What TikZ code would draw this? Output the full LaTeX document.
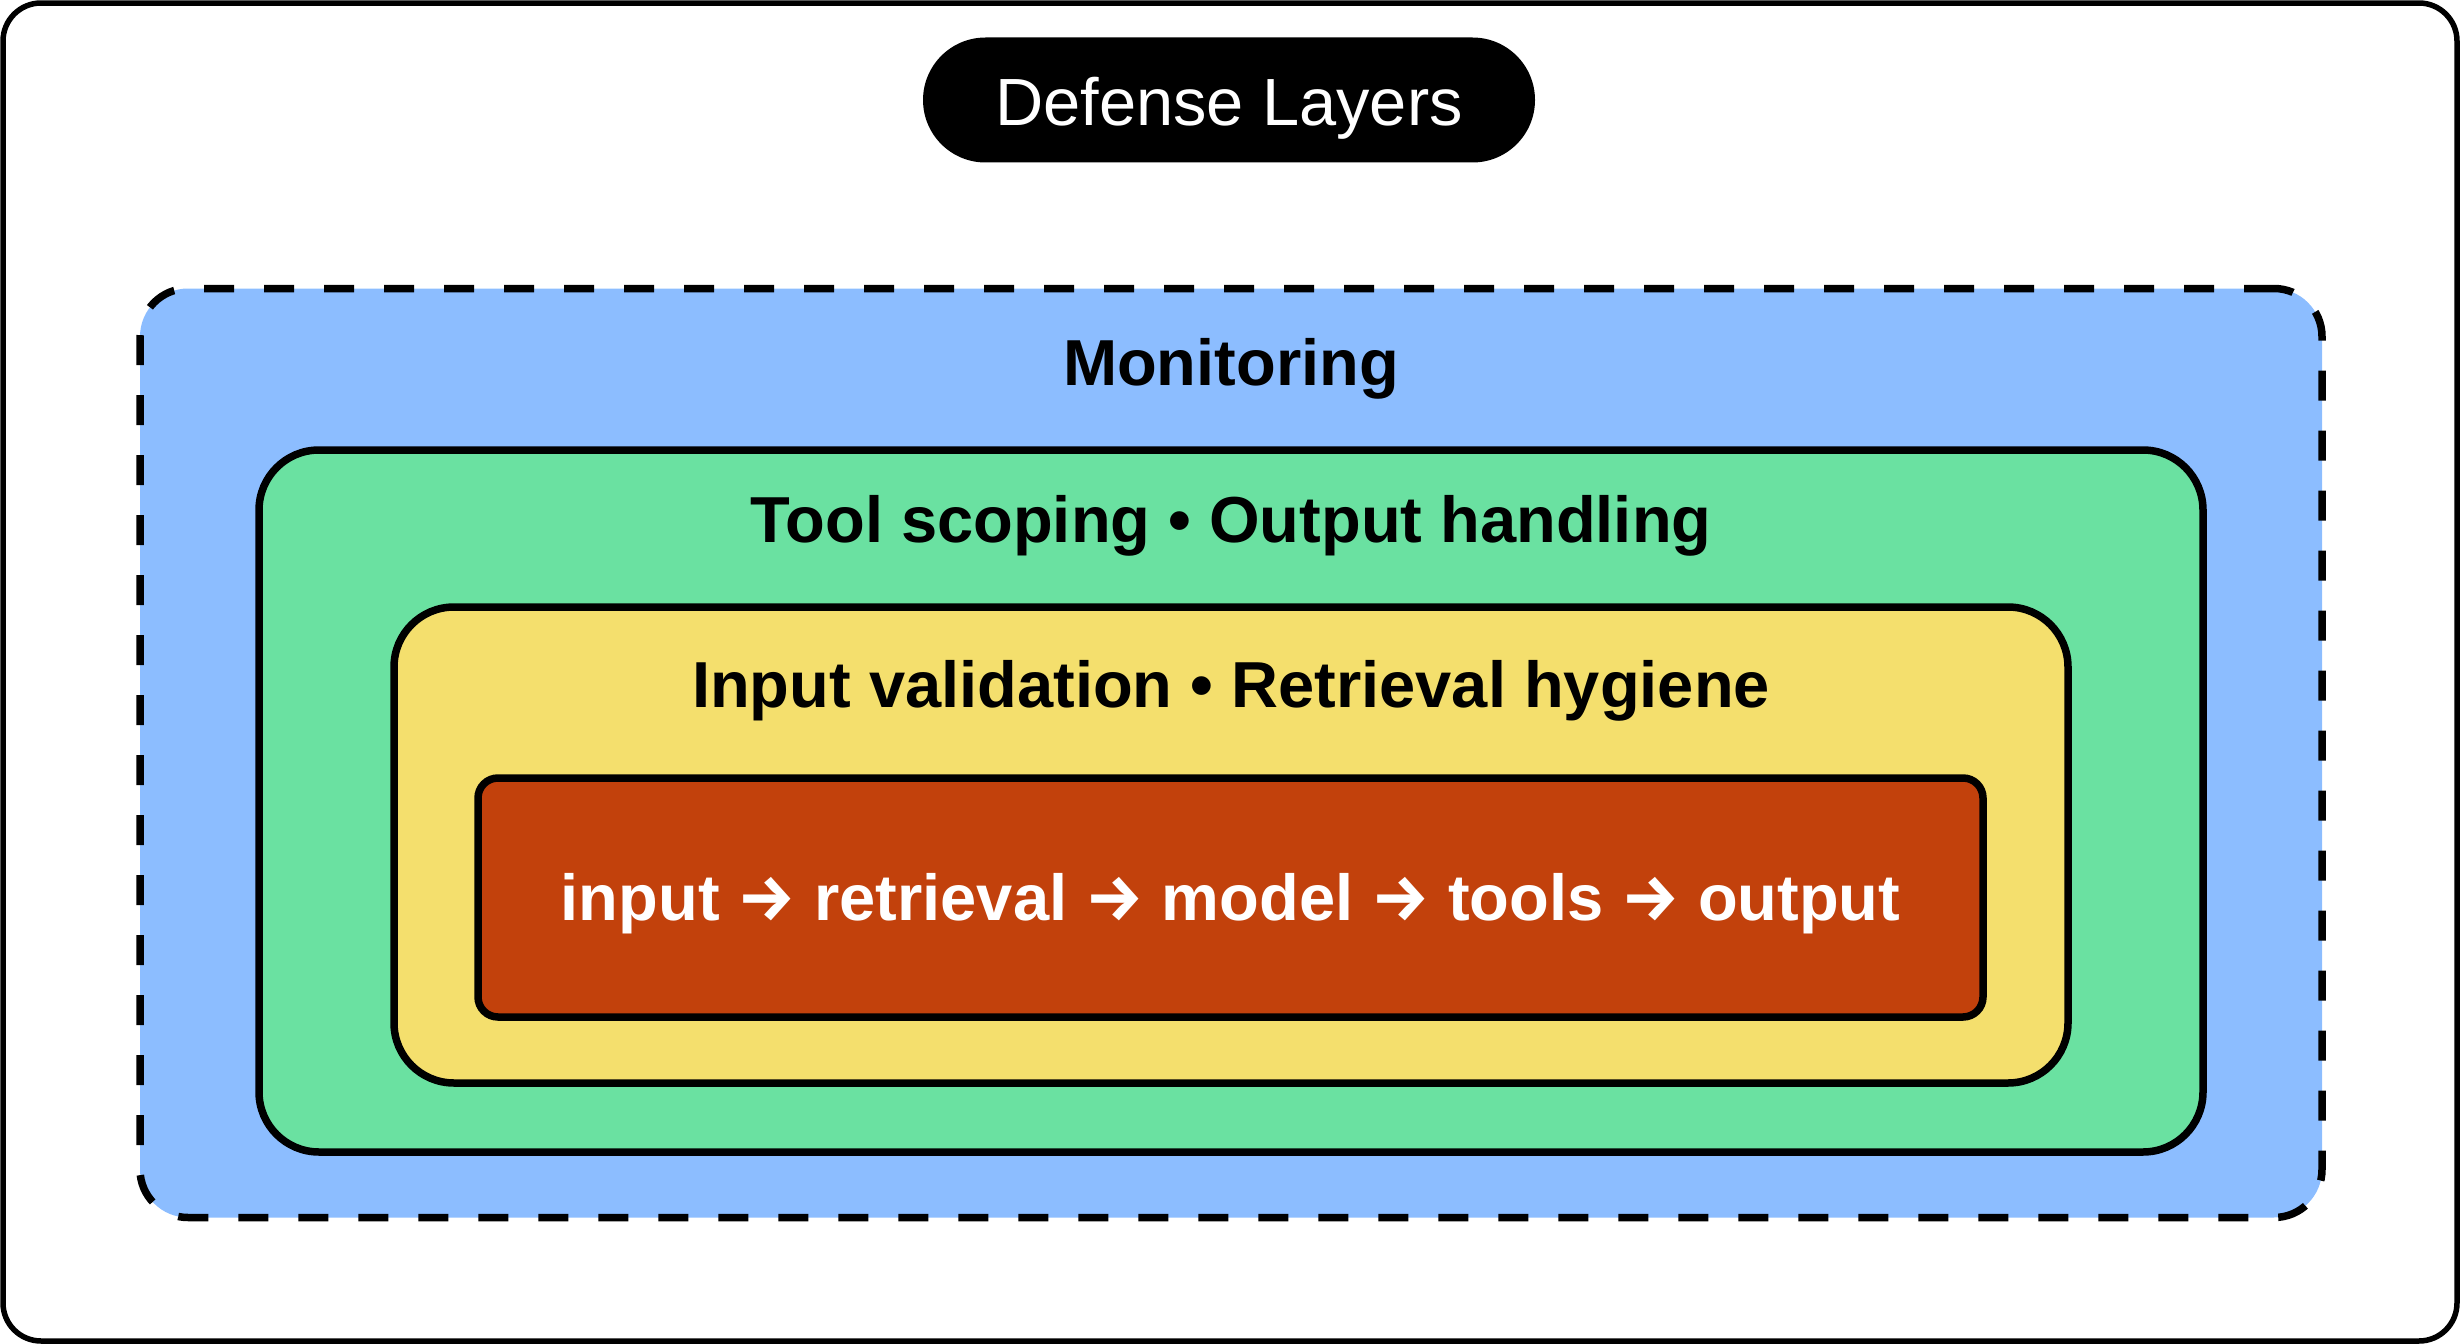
\documentclass[tikz,border=0pt]{standalone}
\usepackage{fontspec}
\setmainfont{Liberation Sans}
\newfontfamily\arrowfont{Fira Sans}
\usetikzlibrary{positioning}
\definecolor{monblue}{HTML}{8CBDFF}
\definecolor{toolgreen}{HTML}{6AE1A1}
\definecolor{inputyellow}{HTML}{F4DF6D}
\definecolor{corered}{HTML}{C2410C}
\newcommand{\flowto}{{\arrowfont\bfseries →}}
\begin{document}
\begin{tikzpicture}[
        x=0.1mm, y=-0.1mm,
        frame/.style={draw=black, line width=0.55mm, rounded corners=3.8mm, inner sep=0pt},
        pill/.style={fill=black, text=white, rounded corners=6.25mm, inner sep=0pt,
            text height=5.1mm, text depth=0mm, font=\fontsize{19pt}{22pt}\selectfont},
        layer/.style={draw=black, line width=0.75mm, rounded corners=6mm, inner sep=0pt},
        layertext/.style={anchor=base, inner sep=0pt, font=\bfseries\fontsize{18.5pt}{22pt}\selectfont},
        flowbox/.style={layer, fill=corered, rounded corners=2mm, text=white,
            text height=4.6mm, text depth=0mm, font=\bfseries\fontsize{18.5pt}{22pt}\selectfont}
    ]

    \useasboundingbox (0,0) rectangle (2460,1344);
    \node[frame, minimum width=245.4mm, minimum height=133.8mm] (outer) at (1230,672) {};
    \node[pill, minimum width=61.2mm, minimum height=12.5mm] (title) at (1229,100) {Defense Layers};

    \node[layer, fill=monblue, dash pattern=on 3mm off 3mm, rounded corners=4.8mm,
        minimum width=218.2mm, minimum height=92.9mm] (mon) at (1231,753) {};
    \node[layertext] (montext) at ([yshift=-10.1mm]mon.north) {Monitoring};

    \node[layer, fill=toolgreen, minimum width=194.4mm, minimum height=70.2mm] (tool) at (1231,801) {};
    \node[layertext] (tooltext) at ([yshift=-9.6mm]tool.north) {Tool scoping • Output handling};

    \node[layer, fill=inputyellow, minimum width=167.4mm, minimum height=47.6mm] (input) at (1231,845) {};
    \node[layertext] (inputtext) at ([yshift=-10.4mm]input.north) {Input validation • Retrieval hygiene};

    \node[flowbox, minimum width=150.5mm, minimum height=23.9mm] (flow) at (1230.5,897.5)
        {input \flowto{} retrieval \flowto{} model \flowto{} tools \flowto{} output};
\end{tikzpicture}
\end{document}
